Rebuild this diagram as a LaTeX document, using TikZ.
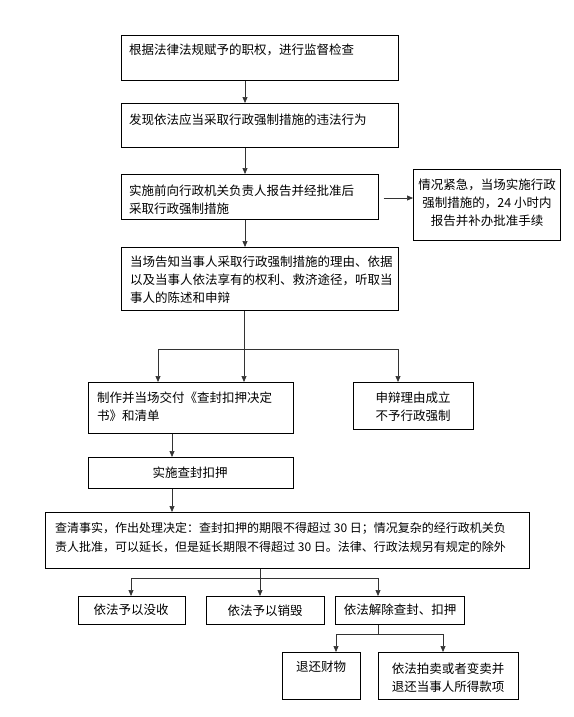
\documentclass[tikz,border=0pt]{standalone}
\usepackage{fontspec}
\setmainfont{Noto Sans CJK SC}
\usetikzlibrary{arrows.meta,calc}
\begin{document}
\begin{tikzpicture}[x=1pt,y=-1pt,
  box/.style={draw, line width=0.7pt, inner sep=0pt, anchor=north west},
  txt/.style={inner sep=0pt, align=left, font=\fontsize{12.5}{18}\selectfont},
  ctxt/.style={inner sep=0pt, align=center, font=\fontsize{12.5}{18}\selectfont},
  arr/.style={line width=0.7pt, draw=black!80, -{Triangle[length=6pt,width=5pt]}},
  ln/.style={line width=0.7pt, draw=black!80}]
\useasboundingbox (0,0) rectangle (573,717);
\fill[white] (0,0) rectangle (573,717);
% boxes
\node[box, minimum width=277, minimum height=45] (b1) at (121,35) {};
\node[box, minimum width=277, minimum height=44] (b2) at (121,103) {};
\node[box, minimum width=257, minimum height=45] (b3) at (121,174) {};
\node[box, minimum width=147, minimum height=71] (br) at (413,169) {};
\node[box, minimum width=277, minimum height=63] (b4) at (121,247) {};
\node[box, minimum width=205, minimum height=51] (b5) at (88,382) {};
\node[box, minimum width=120, minimum height=47] (b6) at (353,382) {};
\node[box, minimum width=205, minimum height=31] (b7) at (88,457) {};
\node[box, minimum width=484, minimum height=56] (b8) at (45,512) {};
\node[box, minimum width=107, minimum height=28] (b9) at (78,596) {};
\node[box, minimum width=118, minimum height=28] (b10) at (206,596) {};
\node[box, minimum width=129, minimum height=28] (b11) at (335,596) {};
\node[box, minimum width=78, minimum height=47] (b12) at (282,652) {};
\node[box, minimum width=140, minimum height=47] (b13) at (378,652) {};
% texts
\node[txt, anchor=west] (t1) at (129,50) {根据法律法规赋予的职权，进行监督检查};
\node[txt, anchor=west] (t2) at (129,120) {发现依法应当采取行政强制措施的违法行为};
\node[txt, anchor=west] (t3) at (129,199.5) {实施前向行政机关负责人报告并经批准后\\采取行政强制措施};
\node[ctxt] (tr) at (487,203) {情况紧急，当场实施行政\\强制措施的，24 小时内\\报告并补办批准手续};
\node[txt, anchor=west] (t4) at (130,280) {当场告知当事人采取行政强制措施的理由、依据\\以及当事人依法享有的权利、救济途径，听取当\\事人的陈述和申辩};
\node[txt, anchor=west] (t5) at (97,407) {制作并当场交付《查封扣押决定\\书》和清单};
\node[ctxt] (t6) at (413,407) {申辩理由成立\\不予行政强制};
\node[ctxt] (t7) at (190,473) {实施查封扣押};
\node[txt, anchor=west, font=\fontsize{12}{19}\selectfont] (t8) at (55,537.5) {查清事实，作出处理决定：查封扣押的期限不得超过 30 日；情况复杂的经行政机关负\\责人批准，可以延长，但是延长期限不得超过 30 日。法律、行政法规另有规定的除外};
\node[ctxt] (t9) at (131,610) {依法予以没收};
\node[ctxt] (t10) at (265,611) {依法予以销毁};
\node[ctxt] (t11) at (400,610) {依法解除查封、扣押};
\node[ctxt] (t12) at (321,667) {退还财物};
\node[ctxt] (t13) at (448,678) {依法拍卖或者变卖并\\退还当事人所得款项};
% x coordinates of connectors
\coordinate (xa) at (245,0);
\coordinate (xb) at (244,0);
\coordinate (j1) at (244,349);
\coordinate (l1) at (158,349);
\coordinate (r1) at (398,349);
\coordinate (xc) at (172,0);
\coordinate (j2) at (260,578);
\coordinate (l2) at (131,578);
\coordinate (m2) at (260,578);
\coordinate (r2) at (378,578);
\coordinate (j3) at (378,634);
\coordinate (l3) at (336,634);
\coordinate (r3) at (443,634);
% connectors
\draw[arr] (b1.south -| xa) -- (b2.north -| xa);
\draw[arr] (b2.south -| xa) -- (b3.north -| xa);
\draw[arr] (b3.south -| xa) -- (b4.north -| xa);
\draw[arr, shorten <=5pt] (b3.east |- 0,198) -- (br.west |- 0,198);
\draw[ln] (b4.south -| xb) -- (j1);
\draw[arr] (j1) -- (b5.north -| j1);
\draw[ln] (l1) -- (r1);
\draw[arr] (l1) -- (b5.north -| l1);
\draw[arr] (r1) -- (b6.north -| r1);
\draw[arr] (b5.south -| xc) -- (b7.north -| xc);
\draw[arr] (b7.south -| xc) -- (b8.north -| xc);
\draw[ln] (b8.south -| j2) -- (j2);
\draw[ln] (l2) -- (r2);
\draw[arr] (l2) -- (b9.north -| l2);
\draw[arr] (m2) -- (b10.north -| m2);
\draw[arr] (r2) -- (b11.north -| r2);
\draw[ln] (b11.south -| j3) -- (j3);
\draw[ln] (l3) -- (r3);
\draw[arr] (l3) -- (b12.north -| l3);
\draw[arr] (r3) -- (b13.north -| r3);
\end{tikzpicture}
\end{document}
